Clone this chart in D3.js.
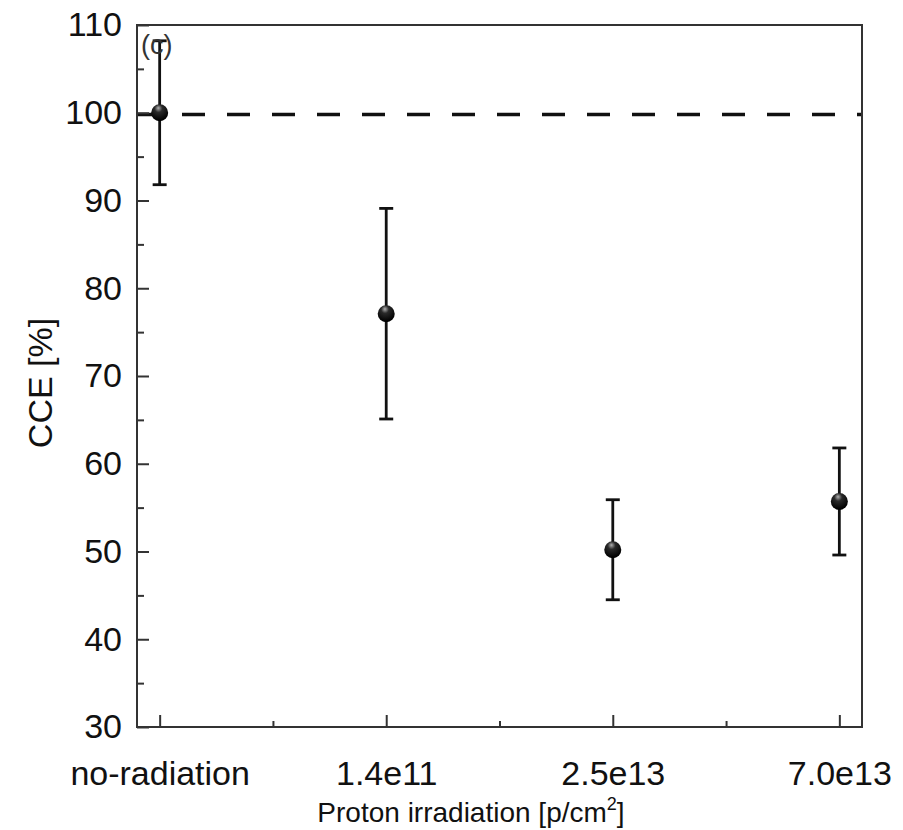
<!DOCTYPE html>
<html>
  <head>
    <meta charset="UTF-8">
    <style>
      body { margin: 0; background: #fff; }
      svg text { font-family: "Liberation Sans", Arial, sans-serif; fill: #111; }
    </style>
    <script src="https://d3js.org/d3.v7.min.js"></script>
  </head>
  <body>
    <script>
      // data
      var categories = ["no-radiation", "1.4e11", "2.5e13", "7.0e13"];
      var cce = [100.0, 77.1, 50.2, 55.7];
      var cceErr = [8.2, 12.0, 5.7, 6.1];
      var yTicks = [30, 40, 50, 60, 70, 80, 90, 100, 110];
      var yMinorTicks = [35, 45, 55, 65, 75, 85, 95, 105];
      var xMinorTicks = [0.5, 1.5, 2.5];
      var refLevel = 99.8;

      var width = 903, height = 830;
      var mLeft = 137, mRight = 862, mTop = 25, mBottom = 727;

      var svg = d3.select("body").append("svg")
        .attr("width", width)
        .attr("height", height);

      svg.append("rect").attr("width", width).attr("height", height).attr("fill", "#fff");

      var defs = svg.append("defs");
      var grad = defs.append("radialGradient")
        .attr("id", "ball")
        .attr("cx", "45%").attr("cy", "30%").attr("r", "65%")
        .attr("fx", "42%").attr("fy", "22%");
      grad.append("stop").attr("offset", "0%").attr("stop-color", "#b0b0b0");
      grad.append("stop").attr("offset", "35%").attr("stop-color", "#2a2a2a");
      grad.append("stop").attr("offset", "100%").attr("stop-color", "#000");

      var x = d3.scaleLinear().domain([-0.1, 3.1]).range([mLeft, mRight]);
      var y = d3.scaleLinear().domain([30, 110]).range([mBottom, mTop]);

      // reference line
      svg.append("line")
        .attr("x1", mLeft).attr("x2", mRight)
        .attr("y1", y(refLevel)).attr("y2", y(refLevel))
        .attr("stroke", "#111")
        .attr("stroke-width", 3.5)
        .attr("stroke-dasharray", "23,22");

      // axes (ticks inward)
      var xAxis = svg.append("g")
        .attr("transform", "translate(0," + mBottom + ")")
        .call(d3.axisBottom(x).tickValues([0, 1, 2, 3])
          .tickFormat(function(i) { return categories[i]; })
          .tickSizeInner(-12).tickSizeOuter(0).tickPadding(34));
      xAxis.select(".domain").remove();
      xAxis.selectAll("line").attr("stroke", "#333").attr("stroke-width", 2);
      xAxis.selectAll("text").attr("font-size", 34).attr("fill", "#111");

      var xMinor = svg.append("g")
        .attr("transform", "translate(0," + mBottom + ")")
        .call(d3.axisBottom(x).tickValues(xMinorTicks).tickFormat("").tickSizeInner(-6).tickSizeOuter(0));
      xMinor.select(".domain").remove();
      xMinor.selectAll("line").attr("stroke", "#333").attr("stroke-width", 2);

      var yAxis = svg.append("g")
        .attr("transform", "translate(" + mLeft + ",0)")
        .call(d3.axisLeft(y).tickValues(yTicks)
          .tickSizeInner(-12).tickSizeOuter(0).tickPadding(15));
      yAxis.select(".domain").remove();
      yAxis.selectAll("line").attr("stroke", "#333").attr("stroke-width", 2);
      yAxis.selectAll("text").attr("font-size", 34).attr("fill", "#111");

      var yMinor = svg.append("g")
        .attr("transform", "translate(" + mLeft + ",0)")
        .call(d3.axisLeft(y).tickValues(yMinorTicks).tickFormat("").tickSizeInner(-7).tickSizeOuter(0));
      yMinor.select(".domain").remove();
      yMinor.selectAll("line").attr("stroke", "#333").attr("stroke-width", 2);

      // frame
      svg.append("rect")
        .attr("x", mLeft).attr("y", mTop)
        .attr("width", mRight - mLeft).attr("height", mBottom - mTop)
        .attr("fill", "none").attr("stroke", "#333").attr("stroke-width", 2);

      // error bars
      var pts = svg.append("g").selectAll("g")
        .data(cce)
        .enter().append("g");

      pts.append("line")
        .attr("x1", function(d, i) { return x(i); })
        .attr("x2", function(d, i) { return x(i); })
        .attr("y1", function(d, i) { return y(d - cceErr[i]); })
        .attr("y2", function(d, i) { return y(d + cceErr[i]); })
        .attr("stroke", "#111").attr("stroke-width", 2.8);

      [-1, 1].forEach(function(s) {
        pts.append("line")
          .attr("x1", function(d, i) { return x(i) - 7; })
          .attr("x2", function(d, i) { return x(i) + 7; })
          .attr("y1", function(d, i) { return y(d + s * cceErr[i]); })
          .attr("y2", function(d, i) { return y(d + s * cceErr[i]); })
          .attr("stroke", "#111").attr("stroke-width", 2.8);
      });

      pts.append("circle")
        .attr("cx", function(d, i) { return x(i); })
        .attr("cy", function(d) { return y(d); })
        .attr("r", 8.5)
        .attr("fill", "url(#ball)");

      // panel label
      svg.append("text")
        .attr("x", 141).attr("y", 54)
        .attr("font-size", 27)
        .style("fill", "#333")
        .text("(c)");

      // axis titles
      svg.append("text")
        .attr("transform", "translate(52,383) rotate(-90)")
        .attr("text-anchor", "middle")
        .attr("font-size", 34)
        .text("CCE [%]");

      var xt = svg.append("text")
        .attr("x", 471).attr("y", 822)
        .attr("text-anchor", "middle")
        .attr("font-size", 28);
      xt.append("tspan").text("Proton irradiation [p/cm");
      xt.append("tspan").attr("font-size", 18).attr("dy", -12).text("2");
      xt.append("tspan").attr("dy", 12).text("]");
    </script>
  </body>
</html>
